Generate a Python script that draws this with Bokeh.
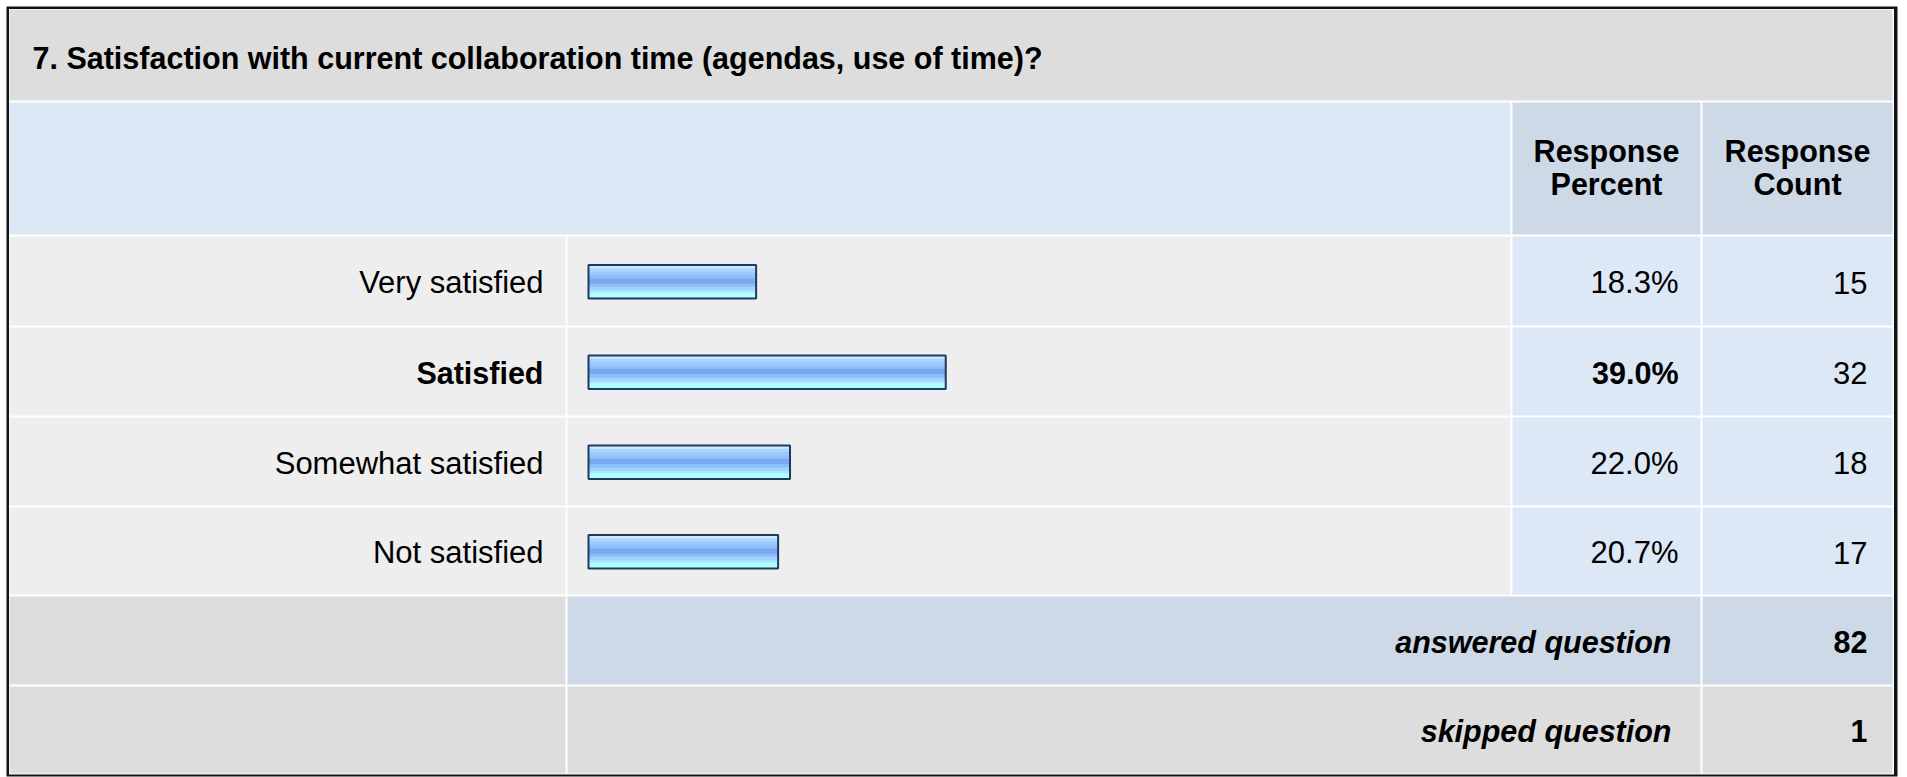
from bokeh.plotting import figure
from bokeh.models import Range1d, ColumnDataSource
from bokeh.embed import file_html
from bokeh.resources import INLINE
from bokeh.core.properties import value

# ---------------- data ----------------
title = "7. Satisfaction with current collaboration time (agendas, use of time)?"
header_percent = ["Response", "Percent"]
header_count = ["Response", "Count"]
categories = ["Very satisfied", "Satisfied", "Somewhat satisfied", "Not satisfied"]
percents = [18.3, 39.0, 22.0, 20.7]
counts = [15, 32, 18, 17]
summary_labels = ["answered question", "skipped question"]
summary_values = [82, 1]

# ---------------- layout (reference pixel coordinates) ----------------
FONT = "Liberation Sans"
FS_REG = "31px"
FS_BOLD = "30.5px"
BASE_FIX = -12          # renderer places the alphabetic baseline lower than asked
W, H = 1907, 777
XL, XR, YT, YB = 6, 1897, 6, 776          # outer box
IL, IR = 9, 1892                            # inner cell edges
C_LAB, C_BAR0, C_BAR1, C_PCT0, C_PCT1, C_CNT0 = 565, 567, 1510, 1512, 1700, 1702
TITLE_Y = (9, 100)
HEAD_Y = (102, 234)
row_tops = [236, 327, 417, 507, 596, 686]
row_bots = [325, 415, 505, 594, 684, 773]
centers = [(a + b) / 2 for a, b in zip(row_tops, row_bots)]
BAR_X0 = 588.0
PX_PER_PCT = 9.16

p = figure(width=W, height=H, x_range=Range1d(0, W), y_range=Range1d(H, 0),
           output_backend="svg", toolbar_location=None, min_border=0,
           x_axis_location=None, y_axis_location=None, outline_line_color=None,
           background_fill_color="white", border_fill_color="white")
p.grid.visible = False
p.extra_x_ranges = {"pct": Range1d(start=(0 - BAR_X0) / PX_PER_PCT,
                                   end=(W - BAR_X0) / PX_PER_PCT)}

# outer border + white separator background
p.quad(left=[XL], right=[XR], top=[YT], bottom=[YB], fill_color="#111111", line_color=None)
p.quad(left=[8.5], right=[1893.5], top=[8.5], bottom=[774], fill_color="#ffffff", line_color=None)

GRAY = "#dddddd"; ROW = "#eeeeee"; LBLUE = "#dce8f5"; DBLUE = "#cdd9e7"
cells = []
cells.append((IL, IR, TITLE_Y[0], TITLE_Y[1], GRAY))
cells.append((IL, C_BAR1, HEAD_Y[0], HEAD_Y[1], LBLUE))
cells.append((C_PCT0, C_PCT1, HEAD_Y[0], HEAD_Y[1], DBLUE))
cells.append((C_CNT0, IR, HEAD_Y[0], HEAD_Y[1], DBLUE))
for i in range(len(categories)):
    t, b = row_tops[i], row_bots[i]
    cells += [(IL, C_LAB, t, b, ROW), (C_BAR0, C_BAR1, t, b, ROW),
              (C_PCT0, C_PCT1, t, b, LBLUE), (C_CNT0, IR, t, b, LBLUE)]
for j, col in enumerate([DBLUE, GRAY]):
    i = len(categories) + j
    t, b = row_tops[i], row_bots[i]
    cells += [(IL, C_LAB, t, b, GRAY), (C_BAR0, C_PCT1, t, b, col), (C_CNT0, IR, t, b, col)]
p.quad(source=ColumnDataSource(dict(l=[c[0] for c in cells], r=[c[1] for c in cells],
                                    t=[c[2] for c in cells], b=[c[3] for c in cells],
                                    c=[c[4] for c in cells])),
       left="l", right="r", top="t", bottom="b", fill_color="c", line_color=None)

# ---------------- bars (glossy horizontal stripes) ----------------
stripes = [(0.0, 2.3, "#cfe8ff"), (2.3, 5.7, "#a8d4ff"), (5.7, 9.0, "#9ccaff"),
           (9.0, 12.3, "#90c0fc"), (12.3, 18.0, "#78a8f0"), (18.0, 21.3, "#8ebefa"),
           (21.3, 24.7, "#a0d4ff"), (24.7, 27.0, "#a8e8ff"), (27.0, 31.5, "#b0ffff")]
n = len(categories)
for a, b, col in stripes:
    ys = [centers[i] - 15 + (a + b) / 2 for i in range(n)]
    p.hbar(y=ys, height=b - a + 0.3, left=0, right=percents, fill_color=col,
           line_color=None, x_range_name="pct")
p.hbar(y=[centers[i] + 0.75 for i in range(n)], height=33.5, left=0, right=percents,
       fill_color=None, line_color="#1d3a60", line_width=2, x_range_name="pct")

# ---------------- texts ----------------
def txt(x, y, s, align="left", style="normal"):
    fs = FS_REG if style == "normal" else FS_BOLD
    p.text(x=[x], y=[y + BASE_FIX], text=[s], text_font=value(FONT), text_font_size=fs,
           text_font_style=style, text_align=align, text_baseline="alphabetic",
           text_color="#000000")

txt(32, 69, title, style="bold")
txt(1606, 162, header_percent[0], "center", "bold")
txt(1606, 195, header_percent[1], "center", "bold")
txt(1797, 162, header_count[0], "center", "bold")
txt(1797, 195, header_count[1], "center", "bold")

imax = percents.index(max(percents))
for i in range(n):
    base = centers[i] + 13.5
    st = "bold" if i == imax else "normal"
    txt(543, base, categories[i], "right", st)
    txt(1678, base, f"{percents[i]:.1f}%", "right", st)
    txt(1867, base, str(counts[i]), "right", "normal")

for j in range(2):
    base = centers[n + j] + 13
    txt(1671, base, summary_labels[j], "right", "bold italic")
    txt(1867, base, str(summary_values[j]), "right", "bold")

open("out.html", "w").write(file_html(p, INLINE))
